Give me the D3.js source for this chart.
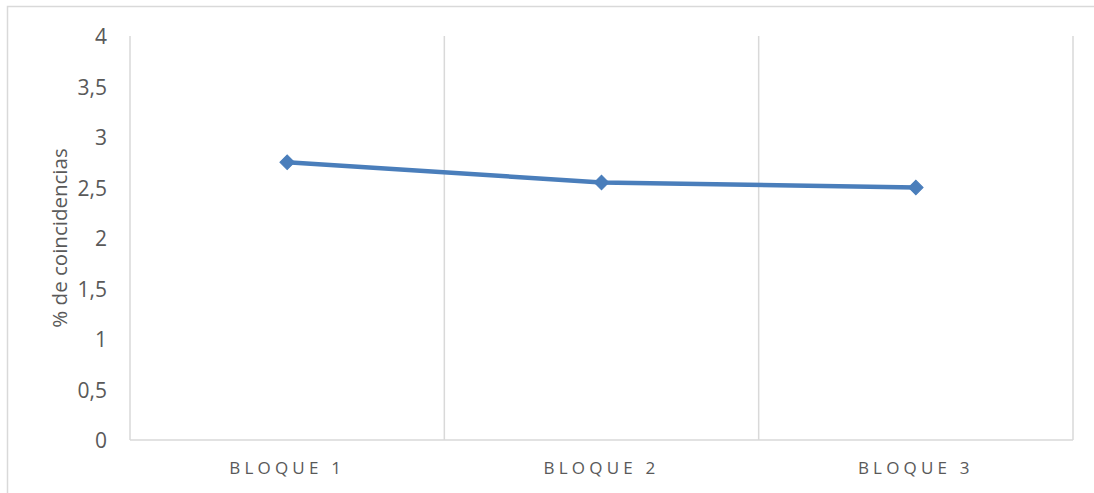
<!DOCTYPE html>
<html>
<head>
<meta charset="utf-8">
<script src="https://cdn.jsdelivr.net/npm/d3@7"></script>
<style>
  html, body { margin: 0; padding: 0; background: #fff; }
  svg { display: block; }
  text { font-family: "Open Sans", "Noto Sans", sans-serif; fill: #595959; }
</style>
</head>
<body>
<svg id="chart" width="1094" height="493"></svg>
<script>
// Series data
const categories = ["BLOQUE 1", "BLOQUE 2", "BLOQUE 3"];
const values = [2.75, 2.55, 2.5];
const yTicks = [0, 0.5, 1, 1.5, 2, 2.5, 3, 3.5, 4];
const yTitle = "% de coincidencias";

const W = 1094, H = 493;
const plot = { left: 130, right: 1073, top: 36, bottom: 440 };

const svg = d3.select("#chart");

// Outer chart frame (continues past the right and bottom edges)
svg.append("rect")
  .attr("x", 7.5).attr("y", 6.5)
  .attr("width", W + 20).attr("height", H + 20)
  .attr("fill", "#fff")
  .attr("stroke", "#d9d9d9").attr("stroke-width", 1.5);

const x = d3.scaleBand()
  .domain(categories)
  .range([plot.left, plot.right])
  .padding(0);

const y = d3.scaleLinear()
  .domain([0, 4])
  .range([plot.bottom, plot.top]);

// Vertical gridlines on category boundaries
const bounds = categories.map(c => x(c)).concat([x(categories[categories.length - 1]) + x.bandwidth()]);
svg.append("g")
  .selectAll("line")
  .data(bounds)
  .join("line")
  .attr("x1", d => d).attr("x2", d => d)
  .attr("y1", plot.top).attr("y2", plot.bottom)
  .attr("stroke", "#d9d9d9").attr("stroke-width", 1.5);

// Category axis line
svg.append("line")
  .attr("x1", plot.left).attr("x2", plot.right)
  .attr("y1", plot.bottom).attr("y2", plot.bottom)
  .attr("stroke", "#d9d9d9").attr("stroke-width", 1.5);

// Value axis labels
const yAxis = d3.axisLeft(y)
  .tickValues(yTicks)
  .tickSize(0)
  .tickPadding(0)
  .tickFormat(d => String(d).replace(".", ","));

const gy = svg.append("g")
  .attr("transform", `translate(107,0)`)
  .call(yAxis);
gy.select(".domain").remove();
gy.selectAll("text")
  .style("font-family", '"Open Sans", sans-serif')
  .style("font-size", "21px")
  .attr("fill", "#595959")
  .attr("dy", "0.36em");

// Category axis labels
const xAxis = d3.axisBottom(x).tickSize(0).tickPadding(0);
const gx = svg.append("g")
  .attr("transform", `translate(0,474)`)
  .call(xAxis);
gx.select(".domain").remove();
gx.selectAll("text")
  .style("font-family", '"Open Sans", sans-serif')
  .style("font-size", "17px")
  .style("letter-spacing", "4.2px")
  .attr("fill", "#595959")
  .attr("dy", 0);

// Value axis title
svg.append("text")
  .attr("transform", `translate(67,238) rotate(-90)`)
  .attr("text-anchor", "middle")
  .style("font-size", "20.5px")
  .text(yTitle);

// Series line
const cx = d => x(d) + x.bandwidth() / 2;
const line = d3.line()
  .x((d, i) => cx(categories[i]))
  .y(d => y(d));

svg.append("path")
  .datum(values)
  .attr("d", line)
  .attr("fill", "none")
  .attr("stroke", "#4a7ebb")
  .attr("stroke-width", 4.5)
  .attr("stroke-linejoin", "round");

// Diamond markers (rotated squares)
svg.append("g")
  .selectAll("path")
  .data(values)
  .join("path")
  .attr("transform", (d, i) => `translate(${cx(categories[i])},${y(d)}) rotate(45)`)
  .attr("d", d3.symbol().type(d3.symbolSquare).size(105))
  .attr("fill", "#4a7ebb")
  .attr("stroke", "#4a7ebb")
  .attr("stroke-width", 1);
</script>
</body>
</html>
